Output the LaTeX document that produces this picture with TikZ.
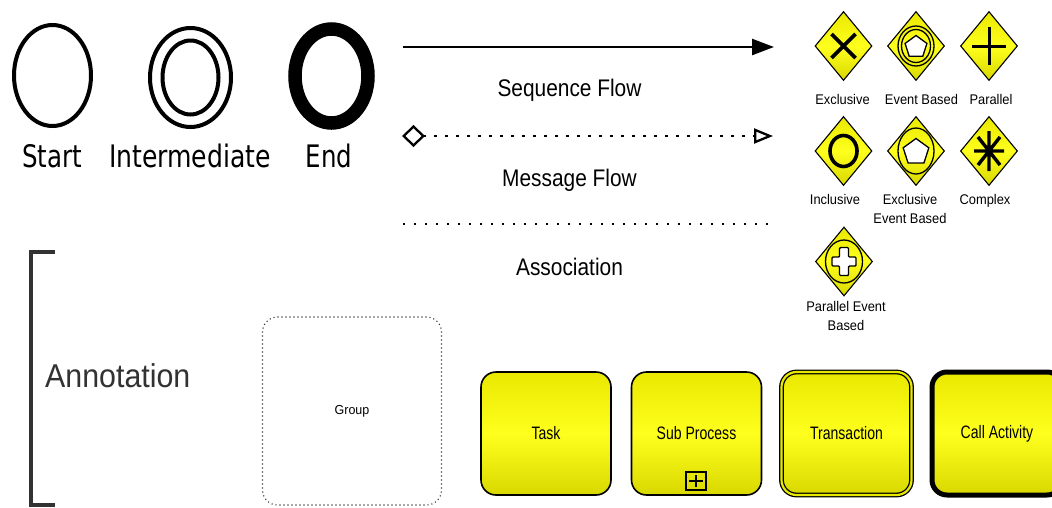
\documentclass[tikz,border=0pt]{standalone}
\usepackage{fontspec}
\usepackage{graphicx}
\setmainfont{Liberation Sans}
\newfontfamily\eventfont{DejaVu Sans}
\usetikzlibrary{shapes.geometric,arrows.meta}

\definecolor{fillTop}{RGB}{232,232,0}
\definecolor{fillMid}{RGB}{255,255,30}
\definecolor{fillBot}{RGB}{216,216,0}
\definecolor{inkGray}{RGB}{50,50,50}

% horizontally condensed text
\newcommand{\hsq}[2]{\scalebox{#1}[1]{#2}}

\tikzset{
  event/.style={ellipse, draw=black, fill=white, inner sep=0pt},
  evlabel/.style={font=\eventfont\fontsize{31}{36}\selectfont, anchor=base, inner sep=0pt},
  gateway/.style={diamond, draw=black, line width=1.1pt, minimum width=57pt, minimum height=69pt,
    inner sep=0pt, top color=fillTop, bottom color=fillBot, middle color=fillMid},
  gwlabel/.style={font=\fontsize{14}{19}\selectfont, align=center, anchor=base, inner sep=0pt},
  flowlabel/.style={font=\fontsize{24}{28}\selectfont, anchor=base, inner sep=0pt},
  ring/.style={ellipse, draw=black, line width=1.3pt, inner sep=0pt},
  pentagon/.style={regular polygon, regular polygon sides=5, draw=black, fill=white,
    line width=1.3pt, inner sep=0pt},
  activity/.style={rectangle, rounded corners=15pt, draw=black, line width=1.6pt,
    minimum width=130pt, minimum height=123pt, inner sep=0pt,
    top color=fillTop, bottom color=fillBot, middle color=fillMid,
    font=\fontsize{18}{22}\selectfont},
  dotline/.style={line width=2.3pt, dash pattern=on 2.3pt off 8.7pt},
}

\begin{document}
\begin{tikzpicture}[x=1pt,y=-1pt]
\path[use as bounding box, fill=white] (0,0) rectangle (1052,507);

% ---------- events ----------
\node[event, line width=4pt, minimum width=77pt, minimum height=101pt] (evStart) at (52.5,75.5) {};
\node[event, line width=4pt, minimum width=81pt, minimum height=99pt] (evInterOuter) at (190.5,77.5) {};
\node[event, line width=4pt, minimum width=56pt, minimum height=74pt] (evInterInner) at (190.5,77.5) {};
\node[event, line width=13.5pt, minimum width=73pt, minimum height=94pt] (evEnd) at (331.5,76) {};

\node[evlabel] (lbStart) at (52,167) {\hsq{0.79}{Start}};
\node[evlabel] (lbInter) at (190,167) {\hsq{0.81}{Intermediate}};
\node[evlabel] (lbEnd) at (329,167) {\hsq{0.79}{End}};

% ---------- flows ----------
\coordinate (seqA) at (403,47);
\coordinate (seqB) at (774,47);
\draw[line width=2.5pt, -{Triangle[length=22pt,width=16pt]}] (seqA) -- (seqB);
\node[flowlabel] (lbSeq) at (569.5,96) {\hsq{0.87}{Sequence Flow}};

\coordinate (msgA) at (402,136);
\coordinate (msgB) at (773,136);
\draw[dotline, {Diamond[open,length=23pt,width=22pt]}-{Triangle[open,length=19pt,width=15pt]}] (msgA) -- (msgB);
\node[flowlabel] (lbMsg) at (569.5,186) {\hsq{0.87}{Message Flow}};

\coordinate (asA) at (403,224);
\coordinate (asB) at (768,224);
\draw[dotline] (asA) -- (asB);
\node[flowlabel] (lbAs) at (569.5,275) {\hsq{0.87}{Association}};

% ---------- gateways ----------
\node[gateway] (gwExcl) at (843.5,46) {};
\node[gateway] (gwEvent) at (916,46) {};
\node[gateway] (gwPar) at (989,46) {};
\node[gateway] (gwIncl) at (843.5,151) {};
\node[gateway] (gwExEv) at (916,151) {};
\node[gateway] (gwCplx) at (989,151) {};
\node[gateway] (gwParEv) at (844,261.5) {};

% exclusive: X
\begin{scope}[shift={(gwExcl.center)}]
  \draw[line width=3.6pt] (-12,-12) -- (12,12) (-12,12) -- (12,-12);
\end{scope}
% event based: double ring with pentagon
\node[ring, minimum width=36pt, minimum height=40pt] (evbOuter) at (gwEvent.center) {};
\node[ring, minimum width=29pt, minimum height=33pt] (evbInner) at (gwEvent.center) {};
\node[pentagon, minimum size=23pt] (evbPent) at ([yshift=-1pt]gwEvent.center) {};
% parallel: plus
\begin{scope}[shift={(gwPar.center)}]
  \draw[line width=3pt] (0,-19) -- (0,19) (-17,0) -- (17,0);
\end{scope}
% inclusive: circle
\node[ellipse, draw=black, line width=3.6pt, minimum width=27pt, minimum height=31pt, inner sep=0pt] (inclRing) at (gwIncl.center) {};
% exclusive event based: ring with pentagon
\node[ring, minimum width=36pt, minimum height=46pt] (eebRing) at (gwExEv.center) {};
\node[pentagon, minimum size=27pt] (eebPent) at ([yshift=-1pt]gwExEv.center) {};
% complex: asterisk
\begin{scope}[shift={(gwCplx.center)}]
  \draw[line width=3.4pt] (-15,0) -- (15,0) (0,-20) -- (0,20) (-11,-14) -- (11,14) (-11,14) -- (11,-14);
\end{scope}
% parallel event based: ring with hollow plus
\node[ring, minimum width=37pt, minimum height=43pt] (pebRing) at (gwParEv.center) {};
\begin{scope}[shift={(gwParEv.center)}]
  \draw[line width=1.4pt, fill=white, rounded corners=1pt]
    (-4.5,-14) -- (4.5,-14) -- (4.5,-4.5) -- (12,-4.5) -- (12,4.5) -- (4.5,4.5) -- (4.5,14)
    -- (-4.5,14) -- (-4.5,4.5) -- (-12,4.5) -- (-12,-4.5) -- (-4.5,-4.5) -- cycle;
\end{scope}

% gateway captions (two-line captions are anchored at their last line)
\node[gwlabel] (lbExcl) at (842.5,104) {\hsq{0.92}{Exclusive}};
\node[gwlabel] (lbEvent) at (921.5,104) {\hsq{0.92}{Event Based}};
\node[gwlabel] (lbPar) at (991,104) {\hsq{0.92}{Parallel}};
\node[gwlabel] (lbIncl) at (835,204) {\hsq{0.92}{Inclusive}};
\node[gwlabel] (lbExEv) at (910,223) {\hsq{0.92}{Exclusive}\\\hsq{0.92}{Event Based}};
\node[gwlabel] (lbCplx) at (985,204) {\hsq{0.92}{Complex}};
\node[gwlabel] (lbParEv) at (846,330) {\hsq{0.92}{Parallel Event}\\\hsq{0.92}{Based}};

% ---------- annotation ----------
\draw[line width=4.5pt, draw=inkGray] (55,252) -- (31,252) -- (31,505) -- (55,505);
\node[font=\fontsize{33}{38}\selectfont, text=inkGray, anchor=base west, inner sep=0pt] (annoText) at (45,387) {\hsq{0.92}{Annotation}};

% ---------- group ----------
\node[rectangle, rounded corners=15pt, draw=black!80, line width=1.1pt, dash pattern=on 1.1pt off 2.9pt,
  minimum width=179pt, minimum height=188pt, font=\fontsize{13}{16}\selectfont] (group) at (352,411) {\hsq{0.96}{Group}};

% ---------- activities ----------
\node[activity] (actTask) at (546,433.5) {\hsq{0.78}{Task}};
\node[activity] (actSub) at (696.5,433.5) {\hsq{0.78}{Sub Process}};
\node[rectangle, draw=black, line width=1.3pt, minimum width=20pt, minimum height=18pt, inner sep=0pt] (subMark) at (696,481) {};
\draw[line width=1.2pt] ([yshift=-6pt]subMark.center) -- ([yshift=6pt]subMark.center)
  ([xshift=-7pt]subMark.center) -- ([xshift=7pt]subMark.center);
\node[activity, draw=black, line width=1.3pt, double=fillTop, double distance=2.2pt] (actTrans) at (846.5,433.5) {\hsq{0.78}{Transaction}};
\node[activity, line width=5pt] (actCall) at (997,433.5) {\hsq{0.78}{Call Activity}};

\end{tikzpicture}
\end{document}
